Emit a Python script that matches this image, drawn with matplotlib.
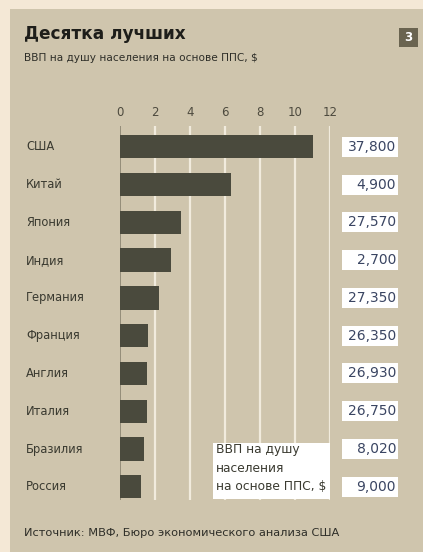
import matplotlib
matplotlib.use("Agg")
import matplotlib.pyplot as plt
from matplotlib.patches import Rectangle

countries = ["США", "Китай", "Япония", "Индия", "Германия", "Франция",
             "Англия", "Италия", "Бразилия", "Россия"]
gdp_trillion = [11.0, 6.35, 3.5, 2.9, 2.25, 1.6, 1.55, 1.55, 1.35, 1.2]
per_capita_labels = ["37,800", "4,900", "27,570", "2,700", "27,350", "26,350",
                     "26,930", "26,750", "8,020", "9,000"]
x_ticks = [0, 2, 4, 6, 8, 10, 12]

W, H = 423, 552
fig = plt.figure(figsize=(W / 100, H / 100), dpi=100)
fig.patch.set_facecolor("#f4e8d6")

def fx(px):
    return px / W

def fy(py):
    return 1 - py / H

panel_col = "#cfc5ad"
fig.patches.append(Rectangle((fx(10), 0), 1 - fx(10), fy(9), transform=fig.transFigure,
                             facecolor=panel_col, edgecolor="none", zorder=-5))

# axes
ax_left, ax_right, ax_top, ax_bot = 120, 330, 126, 500
ax = fig.add_axes([fx(ax_left), fy(ax_bot), fx(ax_right) - fx(ax_left),
                   fy(ax_top) - fy(ax_bot)])
ax.set_zorder(1)
ax.patch.set_visible(False)
ypos = list(range(len(countries)))
for t in x_ticks[1:]:
    ax.axvline(t, color="#f1ebdd", lw=1.6, zorder=1)
ax.axvline(0, color="#8a8470", lw=1.2, zorder=1)
ax.barh(ypos, gdp_trillion, height=0.62, color="#4a4a3d", zorder=2)
ax.set_xlim(0, 12)
ax.set_ylim(9.35, -0.55)
for s in ax.spines.values():
    s.set_visible(False)
ax.set_yticks([])
ax.set_xticks([])

# tick labels on top
for t in x_ticks:
    fig.text(fx(ax_left + t * (ax_right - ax_left) / 12), fy(113), str(t),
             ha="center", va="center", fontsize=8.5, color="#4d4a3e",
             family="DejaVu Sans")

# category labels and value boxes
inv = fig.transFigure.inverted()
for i, (c, v) in enumerate(zip(countries, per_capita_labels)):
    yc = ax.transData.transform((0, i))[1]
    yfig = inv.transform((0, yc))[1]
    fig.text(fx(26), yfig, c, ha="left", va="center", fontsize=8.3,
             color="#3a3a30", family="DejaVu Sans")
    fig.patches.append(Rectangle((fx(342), yfig - 10 / H), fx(398) - fx(342), 20 / H,
                                 transform=fig.transFigure, facecolor="white",
                                 edgecolor="none", zorder=3))
    fig.text(fx(396), yfig, v, ha="right", va="center", fontsize=10,
             color="#3a4562", family="DejaVu Sans", zorder=4)

# legend-like box
fig.patches.append(Rectangle((fx(213), fy(499)), fx(330) - fx(213), fy(443) - fy(499),
                             transform=fig.transFigure, facecolor="white",
                             edgecolor="none", zorder=3))
for k, line in enumerate(["ВВП на душу", "населения", "на основе ППС, $"]):
    fig.text(fx(216), fy(450 + 18.5 * k), line, ha="left", va="center",
             fontsize=8.8, color="#3a3a30", family="DejaVu Sans", zorder=4)

# titles
fig.text(fx(24), fy(34), "Десятка лучших", ha="left", va="center",
         fontsize=12.2, fontweight="bold", color="#1e1e1a", family="DejaVu Sans")
fig.text(fx(24), fy(58), "ВВП на душу населения на основе ППС, $", ha="left",
         va="center", fontsize=7.6, color="#2e2e28", family="DejaVu Sans")
fig.text(fx(24), fy(533), "Источник: МВФ, Бюро экономического анализа США",
         ha="left", va="center", fontsize=8.2, color="#2e2e28", family="DejaVu Sans")

# badge
fig.patches.append(Rectangle((fx(399), fy(47)), fx(418) - fx(399), fy(28) - fy(47),
                             transform=fig.transFigure, facecolor="#6a6450",
                             edgecolor="none", zorder=3))
fig.text(fx(408.5), fy(37.5), "3", ha="center", va="center", fontsize=8.5,
         fontweight="bold", color="white", family="DejaVu Sans", zorder=4)

fig.savefig("out.png", dpi=100, facecolor=fig.get_facecolor())
